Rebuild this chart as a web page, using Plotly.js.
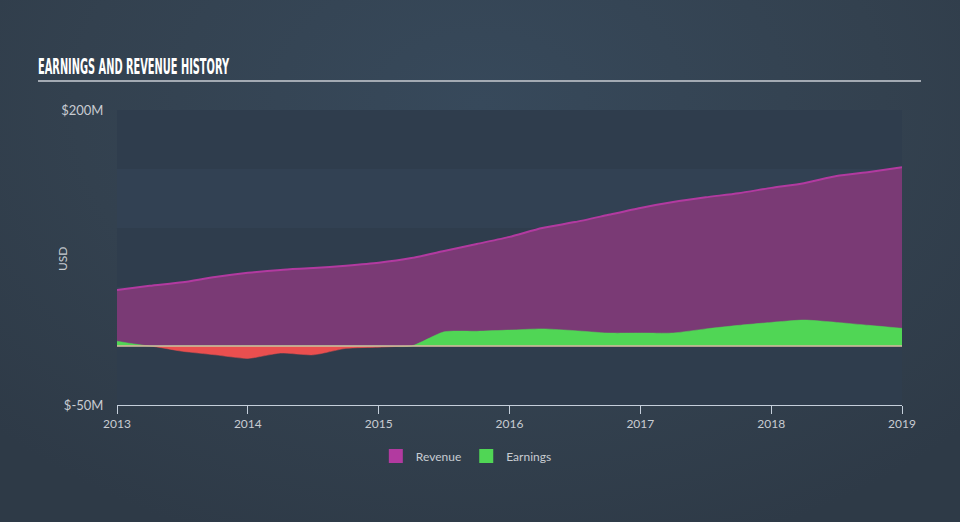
<!DOCTYPE html>
<html>
<head>
<meta charset="utf-8">
<script src="https://cdn.plot.ly/plotly-3.0.1.min.js"></script>
<style>
html,body{margin:0;padding:0;width:960px;height:522px;overflow:hidden;}
body{background:radial-gradient(ellipse 70% 90% at 50% 20%, #37495b 0%, #33414f 60%, #2e3a47 100%);}
#chart{width:960px;height:522px;}
</style>
</head>
<body>
<div id="chart"></div>
<script>
// Data (values in $ millions)
const dates = [2013.0,2013.25,2013.5,2013.75,2014.0,2014.25,2014.5,2014.75,2015.0,2015.25,2015.5,2015.75,2016.0,2016.25,2016.5,2016.75,2017.0,2017.25,2017.5,2017.75,2018.0,2018.25,2018.5,2018.75,2019.0];
const revenue = [47.5,51,54,58.5,62,64.5,66,68,70.5,74.5,80.5,86.5,92.5,100,105,111,117,122,126,129.5,134,138,144,147.5,151.5];
const earnings = [4,0,-4.5,-7.5,-10.5,-6,-7.5,-2,-1,0,12,12.5,13.5,14.5,13,11,11,11,14.5,17.5,20,22,20,17.5,15];
const yTickVals = [-50,200];
const yTickText = ['$-50M','$200M'];
const xTickVals = [2013,2014,2015,2016,2017,2018,2019];
const xTickText = ['2013','2014','2015','2016','2017','2018','2019'];
const bandEdges = [-50,0,50,100,150,200];

const earnPos = earnings.map(v => Math.max(v,0));
const earnNeg = earnings.map(v => Math.min(v,0));

const FONT = 'Lato, "Open Sans", sans-serif';

const traces = [
  {x:dates, y:revenue, name:'Revenue', type:'scatter', mode:'lines', fill:'tozeroy', showlegend:false,
   line:{color:'#b23aa0', width:2, shape:'spline', smoothing:0.6}, fillcolor:'#7a3a75', hoverinfo:'skip'},
  {x:dates, y:earnPos, name:'Earnings', type:'scatter', mode:'lines', fill:'tozeroy', showlegend:false,
   line:{color:'#50d655', width:0.5, shape:'spline', smoothing:0.6}, fillcolor:'#50d655', hoverinfo:'skip'},
  {x:dates, y:earnNeg, name:'Earnings', type:'scatter', mode:'lines', fill:'tozeroy', showlegend:false,
   line:{color:'#ea4f4f', width:0.5, shape:'spline', smoothing:0.6}, fillcolor:'#ea4f4f', hoverinfo:'skip'},
  // legend entries (square swatches)
  {x:[null], y:[null], name:'Revenue', type:'scatter', mode:'markers',
   marker:{symbol:'square', size:14, color:'#b23aa0'}, hoverinfo:'skip'},
  {x:[null], y:[null], name:'Earnings', type:'scatter', mode:'markers',
   marker:{symbol:'square', size:14, color:'#50d655'}, hoverinfo:'skip'}
];

const shapes = [];
for (let i=0;i<bandEdges.length-1;i++){
  shapes.push({type:'rect', xref:'paper', yref:'y', x0:0, x1:1, y0:bandEdges[i], y1:bandEdges[i+1],
    fillcolor: (i%2===0) ? '#2f3d4d' : '#324153', line:{width:0}, layer:'below'});
}
shapes.push({type:'line', xref:'paper', yref:'y', x0:0, x1:1, y0:0, y1:0, line:{color:'#cbc2a2', width:1.5}, layer:'above'});
// title underline
shapes.push({type:'line', xref:'paper', yref:'paper', x0:(38-117)/785, x1:(921-117)/785, y0:(405-81)/295, y1:(405-81)/295, line:{color:'#a3aab3', width:2}});

const layout = {
  width:960, height:522,
  margin:{l:117, r:58, t:110, b:117},
  paper_bgcolor:'rgba(0,0,0,0)', plot_bgcolor:'rgba(0,0,0,0)',
  showlegend:true,
  legend:{orientation:'h', x:0.445, xanchor:'center', y:-0.173, yanchor:'middle',
    font:{family:FONT, size:12, color:'#c8ccd2'}, traceorder:'normal', itemwidth:30},
  xaxis:{range:[2013,2019], tickvals:xTickVals, ticktext:xTickText, showgrid:false, zeroline:false,
    showline:true, linecolor:'#c5cfdb', linewidth:1, ticks:'outside', ticklen:8, tickcolor:'#c5cfdb',
    tickfont:{family:FONT, size:12, color:'#c8ccd2'}, fixedrange:true},
  yaxis:{range:[-50,200], tickvals:yTickVals, ticktext:yTickText, showgrid:false, zeroline:false,
    showline:false, ticks:'outside', ticklen:10, tickcolor:'rgba(0,0,0,0)',
    tickfont:{family:FONT, size:13, color:'#c8ccd2'}, fixedrange:true},
  shapes:shapes,
  annotations:[
    {text:'<b>EARNINGS AND REVENUE HISTORY</b>', xref:'paper', yref:'paper', x:(38-117)/785, y:(405-67)/295,
     xanchor:'left', yanchor:'middle', showarrow:false,
     font:{family:'"DejaVu Sans Condensed", "Liberation Sans Narrow", sans-serif', size:21, color:'#ffffff'}},
    {text:'USD', xref:'paper', yref:'paper', x:(62-117)/785, y:(405-259)/295, textangle:-90,
     xanchor:'center', yanchor:'middle', showarrow:false,
     font:{family:FONT, size:12, color:'#c8ccd2'}}
  ]
};

Plotly.newPlot('chart', traces, layout, {displayModeBar:false, staticPlot:true}).then(function(gd){
  const t = gd.querySelector('.annotation-text');
  if (t) {
    const bb = t.getBBox();
    t.setAttribute('text-anchor', 'start');
    t.setAttribute('x', String(bb.x));
    t.querySelectorAll('tspan').forEach(function(s){ if (s.hasAttribute('x')) s.setAttribute('x', String(bb.x)); });
    t.setAttribute('textLength', '191');
    t.setAttribute('lengthAdjust', 'spacingAndGlyphs');
    // shift so the text starts at page x = 38
    const nb = t.getBoundingClientRect();
    const dx = 38 - nb.left;
    t.setAttribute('x', String(bb.x + dx));
  }
});
</script>
</body>
</html>
